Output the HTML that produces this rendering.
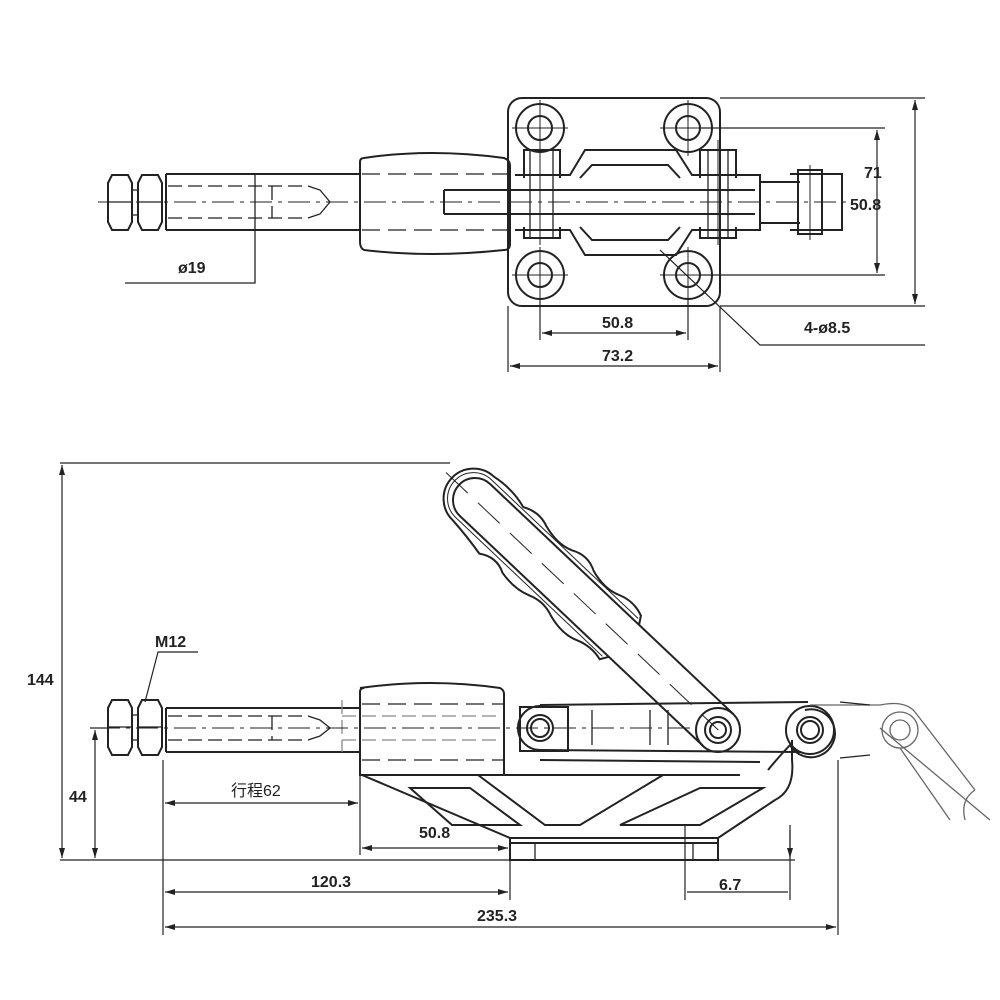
<!DOCTYPE html>
<html><head><meta charset="utf-8"><style>
html,body{margin:0;padding:0;background:#fff}
svg{display:block}
text{font-family:"Liberation Sans","Noto Sans CJK SC",sans-serif;font-weight:bold;font-size:16px;fill:#222}
</style></head><body>
<svg width="1000" height="1000" viewBox="0 0 1000 1000" xmlns="http://www.w3.org/2000/svg">
<defs>
<marker id="a" markerWidth="10" markerHeight="6" refX="10" refY="3" orient="auto-start-reverse" markerUnits="userSpaceOnUse"><path d="M0,0 L10,3 L0,6 z" fill="#222"/></marker>
</defs>
<g fill="none" stroke="#222" stroke-width="2">
<!-- ===== TOP VIEW ===== -->
<path d="M108,183 L112,175 L128,175 L132,183 L132,222 L128,230 L112,230 L108,222 Z"/>
<path d="M108,202 L132,202" stroke-width="1.2"/>
<path d="M132,190 L138,190 M132,215 L138,215" stroke-width="1.2"/>
<path d="M138,183 L142,175 L158,175 L162,183 L162,222 L158,230 L142,230 L138,222 Z"/>
<path d="M138,202 L162,202" stroke-width="1.2"/>
<path d="M166,174 L360,174 M166,230 L360,230 M166,174 L166,230"/>
<g stroke-width="1.3" stroke-dasharray="14,6">
<path d="M168,186 L308,186 M168,218 L308,218 M272,186 L272,218"/>
</g>
<path d="M308,186 L320,190 L330,202 L320,214 L308,218" stroke-width="1.3"/>
<path d="M98,202 L500,202" stroke-width="1" stroke-dasharray="22,6,4,6"/>
<path d="M255,175 L255,283 L125,283" stroke-width="1.3"/>
<path d="M364,158 Q430,148 504,158 Q510,160 510,166 L510,244 Q510,250 504,250 Q430,258 364,250 Q360,248 360,242 L360,162 Q360,158 364,158 Z"/>
<path d="M362,174 L508,174 M362,230 L508,230" stroke-width="1.3" stroke-dasharray="18,8"/>
<path d="M444,190 L755,190 M444,214 L755,214 M444,190 L444,214"/>
<rect x="508" y="98" width="212" height="208" rx="14"/>
<g>
<circle cx="540" cy="128" r="24"/><circle cx="540" cy="128" r="12"/>
<circle cx="688" cy="128" r="24"/><circle cx="688" cy="128" r="12"/>
<circle cx="540" cy="275" r="24"/><circle cx="540" cy="275" r="12"/>
<circle cx="688" cy="275" r="24"/><circle cx="688" cy="275" r="12"/>
</g>
<g stroke-width="1">
<path d="M512,128 L568,128 M540,100 L540,156 M660,128 L716,128 M688,100 L688,156 M512,275 L568,275 M540,247 L540,303 M660,275 L716,275 M688,247 L688,303"/>
</g>
<path d="M515,175 L570,175 L585,150 L676,150 L692,175 L745,175 M515,230 L570,230 L585,255 L676,255 L692,230 L745,230"/>
<path d="M580,178 L592,165 L668,165 L680,178 M580,227 L592,240 L668,240 L680,227"/>
<path d="M524,178 L524,150 L560,150 L560,178 M524,227 L524,238 L560,238 L560,227"/>
<path d="M700,178 L700,150 L736,150 L736,178 M700,227 L700,238 L736,238 L736,227"/>
<path d="M530,150 L530,238 M553,150 L553,238 M708,150 L708,238 M728,150 L728,238" stroke-width="1.3"/>
<path d="M745,175 L760,175 L760,230 L745,230 M760,182 L800,182 M760,223 L800,223"/>
<path d="M790,174 L842,174 L842,230 L790,230 M798,170 L822,170 L822,234 L798,234 Z"/>
<path d="M510,202 L850,202" stroke-width="1" stroke-dasharray="22,6,4,6"/>
<path d="M540,140 L540,245 M718,140 L718,245 M810,165 L810,240" stroke-width="1"/>
<g stroke-width="1.2">
<path d="M720,98 L925,98 M720,306 L925,306 M700,128 L885,128 M700,275 L885,275"/>
<path d="M915,100 L915,304" marker-start="url(#a)" marker-end="url(#a)"/>
<path d="M877,130 L877,273" marker-start="url(#a)" marker-end="url(#a)"/>
<path d="M540,300 L540,340 M688,300 L688,340 M508,306 L508,372 M720,306 L720,372"/>
<path d="M542,333 L686,333" marker-start="url(#a)" marker-end="url(#a)"/>
<path d="M510,366 L718,366" marker-start="url(#a)" marker-end="url(#a)"/>
<path d="M660,250 L760,345 L925,345"/>
</g>
<!-- ===== BOTTOM VIEW ===== -->
<path d="M108,708 L112,700 L128,700 L132,708 L132,747 L128,755 L112,755 L108,747 Z"/>
<path d="M108,727 L132,727" stroke-width="1.2"/>
<path d="M132,715 L138,715 M132,740 L138,740" stroke-width="1.2"/>
<path d="M138,708 L142,700 L158,700 L162,708 L162,747 L158,755 L142,755 L138,747 Z"/>
<path d="M138,727 L162,727" stroke-width="1.2"/>
<path d="M166,708 L360,708 M166,752 L360,752 M166,708 L166,752"/>
<g stroke-width="1.3" stroke-dasharray="14,6">
<path d="M168,716 L308,716 M168,740 L308,740 M272,716 L272,740"/>
<path d="M342,716 L500,716 M342,740 L500,740 M342,700 L342,752" stroke="#888"/>
</g>
<path d="M308,716 L320,720 L330,728 L320,736 L308,740" stroke-width="1.3"/>
<path d="M98,728 L690,728" stroke-width="1" stroke-dasharray="22,6,4,6"/>
<path d="M360,688 Q430,678 500,688 Q504,690 504,694 L504,775 L360,775 L360,692 Q360,688 364,688 Z"/>
<path d="M362,704 L504,704 M362,760 L504,760" stroke-width="1.3" stroke-dasharray="18,8"/>
<path d="M540,705 L808,702 M540,760 L760,762"/>
<path d="M540,706 A22,22 0 0 0 540,750 L800,752" />
<rect x="520" y="707" width="48" height="44"/>
<circle cx="540" cy="728" r="13"/><circle cx="540" cy="728" r="9"/>
<path d="M592,710 L592,745 M650,710 L650,745 M668,710 L668,745" stroke-width="1.3"/>
<circle cx="718" cy="730" r="22"/><circle cx="718" cy="730" r="13"/><circle cx="718" cy="730" r="8"/>
<path d="M805,710 A24,24 0 1 1 790,745 Q776,760 768,770" />
<circle cx="810" cy="730" r="24"/><circle cx="810" cy="730" r="13"/><circle cx="810" cy="730" r="9"/>
<path d="M362,775 L510,838 L718,838 L775,800 Q795,790 792,760 L792,740"/>
<path d="M504,775 L740,775"/>
<path d="M410,788 L470,788 L520,825 L452,825 Z"/>
<path d="M478,775 L545,825 L580,825 L663,775"/>
<path d="M620,825 L700,788 L763,788 L700,825 Z"/>
<path d="M510,838 L510,860 L718,860 L718,838 M510,843 L718,843"/>
<path d="M535,843 L535,860 M693,843 L693,860" stroke-width="1.3"/>
<g transform="translate(475,500) rotate(43.4)">
<path d="M335,-22 L0,-22 A22,22 0 0 0 0,22 L335,22"/>
<path d="M-2,-30 A30,30 0 0 0 -2,30 Q20,32 40,36 Q55,26 70,34 Q90,38 105,32 Q120,26 135,32 Q155,38 170,32 Q185,26 200,30 L205,22 M-2,-30 Q20,-34 40,-28 Q55,-36 70,-30 Q90,-24 105,-30 Q120,-38 135,-30 Q155,-24 170,-30 Q185,-36 200,-30 L205,-22"/>
<path d="M-2,-26 A26,26 0 0 0 -2,26 M-2,-26 L200,-26 M-2,26 L200,26" stroke-width="1"/>
<path d="M-40,0 L335,0" stroke-width="1" stroke-dasharray="30,14"/>
</g>
<g stroke="#666" stroke-width="1.3">
<circle cx="900" cy="730" r="18"/><circle cx="900" cy="730" r="10"/>
<path d="M810,705 L880,705 Q905,700 915,712 L975,790 M900,748 L950,820 M975,790 Q960,800 965,820"/>
<path d="M880,728 L990,820"/>
</g>
<path d="M840,702 L870,705 M840,758 L870,755" stroke-width="1.3"/>
<g stroke-width="1.2">
<path d="M60,463 L450,463 M60,860 L795,860"/>
<path d="M62,465 L62,858" marker-start="url(#a)" marker-end="url(#a)"/>
<path d="M90,728 L108,728"/>
<path d="M95,730 L95,858" marker-start="url(#a)" marker-end="url(#a)"/>
<path d="M145,702 L158,652 L198,652"/>
<path d="M163,760 L163,935 M360,775 L360,855 M510,860 L510,900 M838,760 L838,935 M685,825 L685,900 M790,825 L790,900"/>
<path d="M165,803 L358,803" marker-start="url(#a)" marker-end="url(#a)"/>
<path d="M362,848 L508,848" marker-start="url(#a)" marker-end="url(#a)"/>
<path d="M165,892 L508,892" marker-start="url(#a)" marker-end="url(#a)"/>
<path d="M687,892 L788,892"/>
<path d="M790,830 L790,858" marker-end="url(#a)"/>
<path d="M165,927 L836,927" marker-start="url(#a)" marker-end="url(#a)"/>
</g>
</g>
<text x="178" y="273">ø19</text>
<text x="864" y="178">71</text>
<text x="850" y="210">50.8</text>
<text x="602" y="328">50.8</text>
<text x="602" y="361">73.2</text>
<text x="804" y="333">4-ø8.5</text>
<text x="155" y="647">M12</text>
<text x="27" y="685">144</text>
<text x="69" y="802">44</text>
<text x="231" y="796" style="font-weight:normal">行程62</text>
<text x="419" y="838">50.8</text>
<text x="311" y="887">120.3</text>
<text x="719" y="890">6.7</text>
<text x="477" y="921">235.3</text>
</svg>
</body></html>
